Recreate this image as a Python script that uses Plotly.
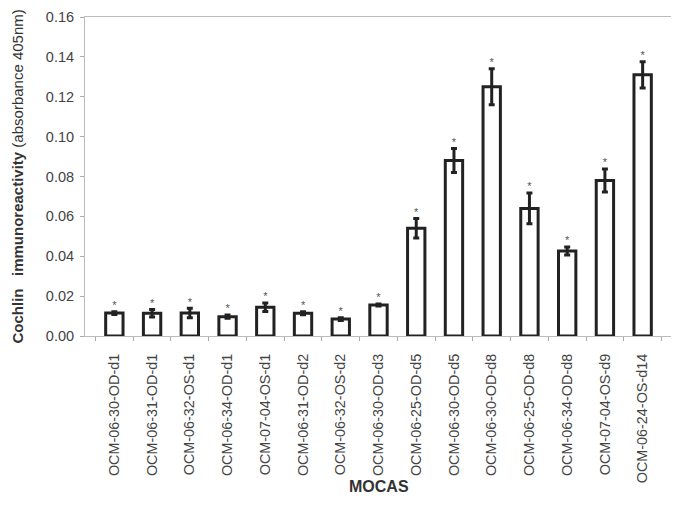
import plotly.graph_objects as go

categories = ["OCM-06-30-OD-d1", "OCM-06-31-OD-d1", "OCM-06-32-OS-d1", "OCM-06-34-OD-d1",
              "OCM-07-04-OS-d1", "OCM-06-31-OD-d2", "OCM-06-32-OS-d2", "OCM-06-30-OD-d3",
              "OCM-06-25-OD-d5", "OCM-06-30-OD-d5", "OCM-06-30-OD-d8", "OCM-06-25-OD-d8",
              "OCM-06-34-OD-d8", "OCM-07-04-OS-d9", "OCM-06-24-OS-d14"]
values = [0.0115, 0.0114, 0.0115, 0.0097, 0.0144, 0.0114, 0.0085, 0.0155,
          0.054, 0.088, 0.125, 0.064, 0.0426, 0.078, 0.131]
errors = [0.0007, 0.0019, 0.0024, 0.0008, 0.0021, 0.0008, 0.0007, 0.0005,
          0.0049, 0.006, 0.009, 0.0077, 0.002, 0.0058, 0.0066]
yticks = [0.0, 0.02, 0.04, 0.06, 0.08, 0.10, 0.12, 0.14, 0.16]

fig = go.Figure()
fig.add_trace(go.Bar(
    x=categories, y=values,
    marker=dict(color="white", line=dict(color="#222222", width=3)),
    width=0.46,
    error_y=dict(type="data", array=errors, visible=True, color="#222222", thickness=3, width=3),
    showlegend=False,
))
fig.add_trace(go.Scatter(
    x=categories, y=[v + e for v, e in zip(values, errors)],
    mode="text", text=["*"] * len(categories), textposition="top center",
    textfont=dict(family="Arial, Liberation Sans", size=11, color="#555555"),
    showlegend=False, hoverinfo="skip",
))

# figure is drawn at (8,8) inside the page because of the body margin
fig.update_layout(
    width=671, height=492,
    margin=dict(l=77, r=7, t=9, b=164, autoexpand=False),
    plot_bgcolor="white", paper_bgcolor="white",
    font=dict(family="Arial, Liberation Sans", color="#333333"),
    annotations=[
        dict(text="<b>Cochlin&nbsp;&nbsp; immunoreactivity</b> (absorbance 405nm)",
             textangle=-90, xref="paper", yref="paper", x=-0.1158, y=0.5,
             xanchor="center", yanchor="middle", showarrow=False,
             font=dict(size=15, color="#333333")),
        dict(text="<b>MOCAS</b>", xref="paper", yref="paper", x=0.5, y=-0.473,
             xanchor="center", yanchor="middle", showarrow=False,
             font=dict(size=16, color="#333333")),
    ],
)
fig.update_yaxes(
    range=[0, 0.16], tickvals=yticks, ticktext=[f"{t:.2f}" for t in yticks],
    tickfont=dict(size=14.5, color="#444444"),
    ticks="outside", ticklen=4, tickcolor="#aaaaaa", ticklabelstandoff=3,
    showline=True, linecolor="#bbbbbb", linewidth=1, mirror=True,
    showgrid=False, zeroline=False,
)
fig.update_xaxes(
    tickangle=-90, tickfont=dict(size=14.4, color="#444444"),
    ticks="outside", ticklen=4, tickcolor="#aaaaaa", tickson="boundaries",
    ticklabelstandoff=11,
    showline=True, linecolor="#bbbbbb", linewidth=1, mirror=True,
    showgrid=False,
)

fig.write_html("out.html")
